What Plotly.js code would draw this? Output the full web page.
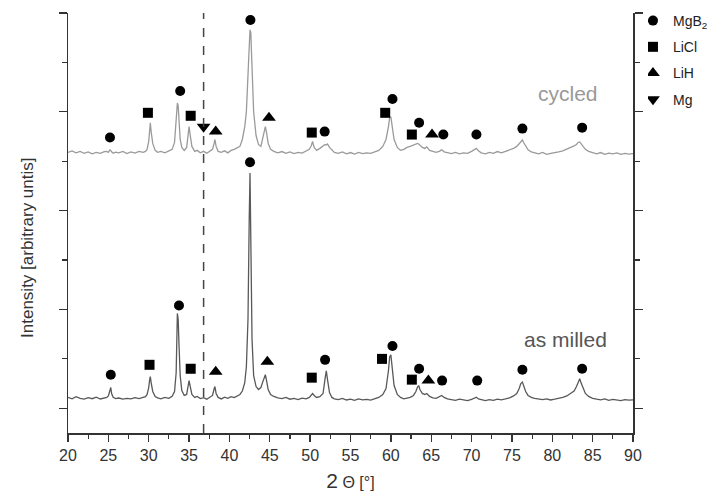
<!DOCTYPE html>
<html>
<head>
<meta charset="utf-8">
<script src="https://cdn.plot.ly/plotly-3.0.1.min.js"></script>
<style>html,body{margin:0;padding:0;background:#fff}#chart{width:709px;height:497px}</style>
</head>
<body>
<div id="chart"></div>
<script>
// 2-theta grid (degrees), shared by both patterns
const twoTheta = [
  20.0,20.5,21.0,21.5,22.0,22.5,23.0,23.5,24.0,24.5,
  24.8,25.0,25.2,25.3,25.4,25.6,25.9,
  26.3,26.8,27.3,27.8,28.3,28.8,29.3,
  29.6,29.8,30.0,30.1,30.2,30.3,30.5,30.8,31.1,
  31.5,32.0,32.5,32.9,
  33.2,33.4,33.55,33.65,33.75,33.9,34.1,34.4,
  34.7,34.85,35.0,35.15,35.35,35.7,
  36.0,36.4,36.8,37.2,37.6,
  37.9,38.1,38.2,38.35,38.6,
  39.0,39.4,39.8,40.2,40.6,41.0,
  41.3,41.6,41.9,42.1,42.3,42.45,42.55,42.65,42.8,43.0,43.3,43.6,43.9,
  44.1,44.3,44.45,44.6,44.8,45.1,
  45.5,46.0,46.5,47.0,47.5,48.0,48.5,49.0,49.5,49.9,
  50.15,50.3,50.5,50.8,51.2,
  51.6,51.85,52.0,52.15,52.4,52.7,
  53.0,53.5,54.0,54.5,55.0,55.5,56.0,56.5,57.0,57.5,58.0,58.5,59.0,
  59.4,59.7,59.85,60.0,60.15,60.4,60.8,61.2,
  61.6,62.0,62.4,62.8,
  63.1,63.3,63.45,63.6,63.9,
  64.2,64.45,64.8,65.2,65.6,
  66.0,66.3,66.6,67.0,
  67.5,68.0,68.5,69.0,69.5,70.0,
  70.35,70.6,70.85,71.2,
  71.7,72.2,72.7,73.2,73.7,74.2,74.7,75.2,
  75.6,75.9,76.1,76.3,76.45,76.7,77.0,77.4,
  77.8,78.3,78.8,79.3,79.8,80.3,80.8,81.3,81.8,82.3,
  82.7,83.0,83.2,83.4,83.55,83.8,84.1,84.5,
  85.0,85.5,86.0,86.5,87.0,87.5,88.0,88.5,89.0,89.5,90.0
];

// "as milled" pattern (arbitrary units)
const asMilled = [
  110,95,118,100,92,108,97,112,94,105,
  110,125,170,210,150,112,98,
  104,92,100,95,108,98,110,
  118,140,210,280,320,260,170,120,105,
  96,110,100,122,
  170,360,960,900,650,330,180,130,
  140,200,280,220,140,110,
  120,98,108,92,110,
  130,195,220,150,110,
  95,112,100,118,108,125,
  140,175,260,420,900,1900,2380,1700,700,330,220,190,210,
  260,320,340,280,190,140,
  120,105,98,110,92,100,88,102,95,110,
  135,150,130,110,118,
  150,300,380,290,160,110,
  95,88,100,84,92,80,95,86,90,82,98,110,140,
  200,380,520,540,430,230,140,110,
  95,102,110,130,
  170,215,230,190,150,
  140,150,120,105,100,
  115,130,110,95,
  88,80,92,84,78,90,
  100,112,95,85,
  78,88,80,92,86,95,105,125,
  150,200,250,265,230,170,130,110,
  100,92,88,96,84,92,100,110,125,150,
  175,220,270,300,260,200,150,120,
  100,92,85,95,80,90,84,78,88,82,86
];

// "cycled" pattern (offset upwards, arbitrary units)
const cycled = [
  2590,2605,2585,2600,2580,2595,2575,2590,2580,2598,
  2600,2590,2615,2610,2595,2580,2592,
  2585,2600,2578,2595,2583,2600,2590,
  2600,2620,2700,2820,2890,2800,2680,2610,2590,
  2600,2585,2605,2620,
  2690,2900,3090,3060,2900,2720,2640,2610,
  2640,2750,2850,2760,2650,2600,
  2610,2585,2600,2580,2600,
  2620,2680,2720,2650,2600,
  2590,2605,2585,2610,2620,2640,
  2650,2720,2850,3000,3300,3650,3830,3800,3450,3000,2760,2670,2650,
  2720,2800,2850,2790,2680,2620,
  2600,2585,2598,2580,2595,2578,2590,2582,2600,2620,
  2660,2700,2640,2610,2630,
  2650,2670,2665,2675,2640,2610,
  2590,2580,2595,2575,2588,2572,2590,2578,2585,2580,2598,2610,2650,
  2720,2850,2940,2950,2870,2720,2640,2610,
  2620,2640,2650,2660,
  2670,2680,2675,2660,2640,
  2630,2645,2610,2600,2590,
  2600,2615,2595,2585,
  2578,2590,2575,2585,2580,2600,
  2615,2630,2605,2585,
  2575,2590,2580,2598,2585,2600,2610,2630,
  2650,2680,2700,2715,2690,2650,2615,2595,
  2585,2575,2590,2570,2580,2585,2595,2605,2620,2640,
  2655,2670,2690,2695,2680,2650,2620,2600,
  2585,2575,2588,2570,2582,2575,2585,2570,2580,2572,2578
];

// phase reflection markers
const mgb2X = [25.2,33.9,42.6,51.8,60.2,63.5,66.5,70.6,76.3,83.7, 25.3,33.75,42.55,51.85,60.2,63.5,66.35,70.7,76.3,83.7];
const mgb2Y = [2740,3210,3930,2800,3130,2890,2770,2770,2830,2840, 340,1040,2490,490,630,400,280,280,390,400];
const liclX = [29.9,35.2,50.2,59.3,62.6, 30.1,35.2,50.2,58.9,62.6];
const liclY = [2990,2960,2790,2990,2770, 440,400,310,500,290];
const lihX  = [38.3,44.9,65.1, 38.3,44.7,64.65];
const lihY  = [2800,2940,2770, 370,470,280];
const mgX   = [36.8];
const mgY   = [2850];

const phaseNames = ["MgB<sub>2</sub>","LiCl","LiH","Mg"];
const sampleLabels = ["cycled","as milled"];
const labelX = [81.9, 81.6];
const labelY = [3190, 700];
const dashedAt = 36.8;

const FONT = "Liberation Sans, Arial, Helvetica, sans-serif";

const traces = [
  {x: twoTheta, y: cycled, mode: "lines", line: {color: "#9a9a9a", width: 1.3}, showlegend: false, hoverinfo: "skip"},
  {x: twoTheta, y: asMilled, mode: "lines", line: {color: "#595959", width: 1.3}, showlegend: false, hoverinfo: "skip"},
  {x: mgb2X, y: mgb2Y, mode: "markers", name: phaseNames[0], legendgroup: "a", marker: {symbol: "circle", size: 10, color: "#000"}},
  {x: liclX, y: liclY, mode: "markers", name: phaseNames[1], legendgroup: "b", marker: {symbol: "square", size: 10, color: "#000"}},
  {x: lihX, y: lihY, mode: "markers", name: phaseNames[2], legendgroup: "c", marker: {symbol: "triangle-up", size: 12, color: "#000"}},
  {x: mgX, y: mgY, mode: "markers", name: phaseNames[3], legendgroup: "d", marker: {symbol: "triangle-down", size: 12, color: "#000"}}
];

const layout = {
  width: 709, height: 497,
  margin: {l: 68, r: 76, t: 13, b: 64, autoexpand: false},
  paper_bgcolor: "#fff", plot_bgcolor: "#fff",
  font: {family: FONT, color: "#333"},
  xaxis: {
    range: [20, 90], tick0: 20, dtick: 5, ticks: "outside", ticklen: 7, tickwidth: 1.3, tickcolor: "#333",
    showline: true, linecolor: "#333", linewidth: 1.5, mirror: false, showgrid: false, zeroline: false,
    tickfont: {size: 16, color: "#333", family: FONT},
    minor: {dtick: 2.5, ticks: "outside", ticklen: 4, tickwidth: 1.2, tickcolor: "#333", showgrid: false},
    title: {text: "<span style='font-size:21px'>2</span> Θ [°]", font: {size: 16, color: "#333", family: FONT}, standoff: 14}
  },
  yaxis: {
    range: [-250, 4000], tick0: 0, dtick: 1000, ticks: "outside", ticklen: 8, tickwidth: 1.3, tickcolor: "#333",
    showticklabels: false, showline: true, linecolor: "#333", linewidth: 1.5, mirror: "ticks",
    showgrid: false, zeroline: false,
    minor: {dtick: 500, ticks: "outside", ticklen: 5, tickwidth: 1.2, tickcolor: "#333", showgrid: false}
  },
  legend: {
    x: 1.0265, xanchor: "left", y: 1.019, yanchor: "top",
    bgcolor: "rgba(0,0,0,0)", font: {size: 14, color: "#222", family: FONT},
    tracegroupgap: 5, itemwidth: 30, indentation: -15
  },
  shapes: [{type: "line", xref: "x", yref: "paper", x0: dashedAt, x1: dashedAt, y0: 0, y1: 1,
            line: {color: "#444", width: 1.5, dash: "dash"}}],
  annotations: [
    {x: labelX[0], y: labelY[0], xref: "x", yref: "y", text: sampleLabels[0], showarrow: false,
     font: {size: 21, color: "#999", family: FONT}},
    {x: labelX[1], y: labelY[1], xref: "x", yref: "y", text: sampleLabels[1], showarrow: false,
     font: {size: 21, color: "#555", family: FONT}},
    {xref: "paper", yref: "paper", x: -0.073, y: 0.44, text: "Intensity [arbitrary untis]", textangle: -90,
     showarrow: false, font: {size: 17, color: "#333", family: FONT}, xanchor: "center", yanchor: "middle"}
  ]
};

Plotly.newPlot("chart", traces, layout, {displayModeBar: false, staticPlot: true});
</script>
</body>
</html>
